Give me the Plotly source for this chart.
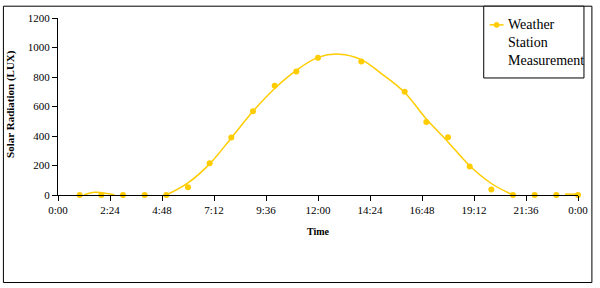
import plotly.graph_objects as go

# Measured data (hour of day, lux)
meas_hours = [1, 2, 3, 4, 5, 6, 7, 8, 9, 10, 11, 12, 14, 16, 17, 18, 19, 20, 21, 22, 23, 24]
meas_lux = [0, 0, 0, 0, 0, 52, 215, 390, 567, 740, 838, 930, 905, 700, 495, 391, 194, 38, 0, 0, 0, 0]

# Smoothed model curve (visible positive parts only), None = gap
curve_hours = [1.2, 1.6, 2.0, 2.6, None,
               5, 6, 7, 8, 9, 10, 11, 12, 13, 14, 15, 16, 17, 18, 19, 20, 21, None,
               23.4, 24]
curve_lux = [0, 17, 16, 2, None,
             0, 82, 211, 387, 567, 722, 845, 933, 955, 918, 815, 695, 515, 360, 198, 78, 0, None,
             6, 6]

tick_vals = [0, 2.4, 4.8, 7.2, 9.6, 12, 14.4, 16.8, 19.2, 21.6, 24]
tick_text = ["0:00", "2:24", "4:48", "7:12", "9:36", "12:00", "14:24", "16:48", "19:12", "21:36", "0:00"]
y_ticks = [0, 200, 400, 600, 800, 1000, 1200]

GOLD = "#FFCC00"
FONT = "Liberation Serif"

W, H = 600, 288
L, R, T, B = 58, 18, 15, 93
PW, PH = W - L - R, H - T - B


def px(x):
    return (x - L) / PW


def py(y):
    return (H - B - y) / PH


fig = go.Figure()
fig.add_trace(go.Scatter(x=curve_hours, y=curve_lux, mode="lines",
                         line=dict(color=GOLD, width=1.5, shape="spline"),
                         connectgaps=False, showlegend=False, hoverinfo="skip"))
fig.add_trace(go.Scatter(x=meas_hours, y=meas_lux, mode="markers",
                         marker=dict(color=GOLD, size=6, symbol="circle"),
                         cliponaxis=False, name="Weather Station Measurement",
                         showlegend=False))

shapes = [
    # outer border
    dict(type="rect", xref="paper", yref="paper", x0=px(3), x1=px(596), y0=py(284), y1=py(3),
         line=dict(color="black", width=1), fillcolor="rgba(0,0,0,0)", layer="below"),
    # legend box
    dict(type="rect", xref="paper", yref="paper", x0=px(487), x1=px(588), y0=py(76), y1=py(3),
         line=dict(color="black", width=1), fillcolor="white"),
    # legend line sample
    dict(type="line", xref="paper", yref="paper", x0=px(493), x1=px(507), y0=py(22), y1=py(22),
         line=dict(color=GOLD, width=1.5)),
    # legend marker sample
    dict(type="circle", xref="paper", yref="paper", x0=px(497.5), x1=px(502.5), y0=py(24.5), y1=py(19.5),
         line=dict(color=GOLD, width=1), fillcolor=GOLD),
]

annotations = [
    dict(text="Weather<br>Station<br>Measurement", xref="paper", yref="paper",
         x=px(509), y=py(12), xanchor="left", yanchor="top", align="left", showarrow=False,
         font=dict(family=FONT, size=14, color="black")),
    dict(text="<b>Time</b>", xref="paper", yref="paper", x=0.5, y=py(232),
         xanchor="center", yanchor="middle", showarrow=False,
         font=dict(family=FONT, size=10, color="black")),
    dict(text="<b>Solar Radiation (LUX)</b>", xref="paper", yref="paper", x=px(10), y=py(102),
         xanchor="center", yanchor="middle", textangle=-90, showarrow=False,
         font=dict(family=FONT, size=11, color="black")),
]

fig.update_layout(
    width=W, height=H,
    margin=dict(l=L, r=R, t=T, b=B),
    paper_bgcolor="white", plot_bgcolor="white",
    showlegend=False,
    shapes=shapes, annotations=annotations,
    font=dict(family=FONT, size=11, color="black"),
    xaxis=dict(range=[0, 24], tickvals=tick_vals, ticktext=tick_text,
               showgrid=False, zeroline=False, showline=True, linecolor="black", linewidth=1,
               ticks="outside", ticklen=5, tickcolor="black", tickwidth=1,
               tickfont=dict(family=FONT, size=11)),
    yaxis=dict(range=[0, 1200], tickvals=y_ticks,
               showgrid=False, zeroline=False, showline=True, linecolor="black", linewidth=1,
               ticks="outside", ticklen=5, tickcolor="black", tickwidth=1,
               tickfont=dict(family=FONT, size=11)),
)

fig.write_html("out.html")
